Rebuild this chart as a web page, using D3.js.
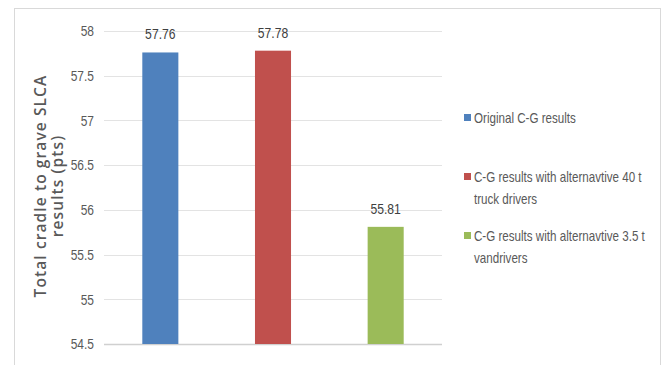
<!DOCTYPE html>
<html><head><meta charset="utf-8">
<script src="https://cdn.jsdelivr.net/npm/d3@7"></script>
<style>
body{margin:0;background:#fff;}
text{font-family:"Liberation Sans",Arial,sans-serif;}
</style></head><body>
<svg id="c" width="664" height="365"></svg>
<script>
const categories = ["Original C-G results", "C-G results with alternavtive 40 t truck drivers", "C-G results with alternavtive 3.5 t vandrivers"];
const legendLines = [["Original C-G results"], ["C-G results with alternavtive 40 t", "truck drivers"], ["C-G results with alternavtive 3.5 t", "vandrivers"]];
const values = [57.76, 57.78, 55.81];
const colors = ["#4F81BD", "#C0504D", "#9BBB59"];
const yTicks = [54.5, 55, 55.5, 56, 56.5, 57, 57.5, 58];
const yTitle = ["Total cradle to grave SLCA", "results (pts)"];

const SX = 0.8; // horizontal condensing of the reference's narrow font

const svg = d3.select("#c");
svg.append("rect").attr("x",14.5).attr("y",8.5).attr("width",646).attr("height",370)
  .attr("fill","#fff").attr("stroke","#d9d9d9");

const x0 = 104, x1 = 442;
const y = d3.scaleLinear().domain([54.5, 58]).range([344, 31]);
const x = d3.scaleBand().domain(categories).range([x0, x1]).paddingInner(0.68).paddingOuter(0.34);

const g = svg.append("g");
g.selectAll(".grid").data(yTicks).enter().append("line")
  .attr("x1", x0).attr("x2", x1)
  .attr("y1", d=>Math.round(y(d))+0.5).attr("y2", d=>Math.round(y(d))+0.5)
  .attr("stroke", d=> d===54.5 ? "#d0d0d0" : "#e3e3e3").attr("stroke-width", d=> d===54.5?1.5:1);

const yAxis = d3.axisLeft(y).tickValues(yTicks).tickSize(0).tickPadding(0).tickFormat(d=>d3.format("")(d));
const ya = svg.append("g").attr("transform","translate(94,0)").call(yAxis);
ya.select(".domain").remove();
ya.selectAll("text").attr("font-size",15).attr("fill","#595959")
  .attr("x",0).attr("transform",`scale(${SX},1)`)
  .style("font-family",'"Liberation Sans",Arial,sans-serif');

g.selectAll(".bar").data(values).enter().append("rect")
  .attr("x",(d,i)=>x(categories[i])).attr("width",x.bandwidth())
  .attr("y",d=>y(d)).attr("height",d=>y(54.5)-y(d))
  .attr("fill",(d,i)=>colors[i]);

g.selectAll(".lbl").data(values).enter().append("text")
  .attr("transform",(d,i)=>`translate(${x(categories[i])+x.bandwidth()/2},${y(d)-13}) scale(0.84,1)`)
  .attr("text-anchor","middle").attr("font-size",14.5).attr("fill","#404040")
  .text(d=>d3.format(".2f")(d));

const t = svg.append("text").attr("transform","translate(46,186) rotate(-90)")
  .attr("text-anchor","middle").attr("fill","#595959").attr("font-size",15.5)
  .attr("letter-spacing",1.1)
  .style("font-family","'Open Sans',sans-serif").attr("font-weight",600);
yTitle.forEach((s,i)=>t.append("tspan").attr("x",0).attr("y", i*17).text(s));

const lg = svg.append("g");
const legY = [118, 177, 236];
legendLines.forEach((lines,i)=>{
  lg.append("rect").attr("x",464).attr("y",legY[i]-4).attr("width",7).attr("height",7).attr("fill",colors[i]);
  lines.forEach((s,j)=>{
    lg.append("text").attr("transform",`translate(474,${legY[i]+j*22}) scale(${SX},1)`)
      .attr("dy","0.35em").attr("font-size",14.5).attr("fill","#595959").text(s);
  });
});
</script></body></html>
